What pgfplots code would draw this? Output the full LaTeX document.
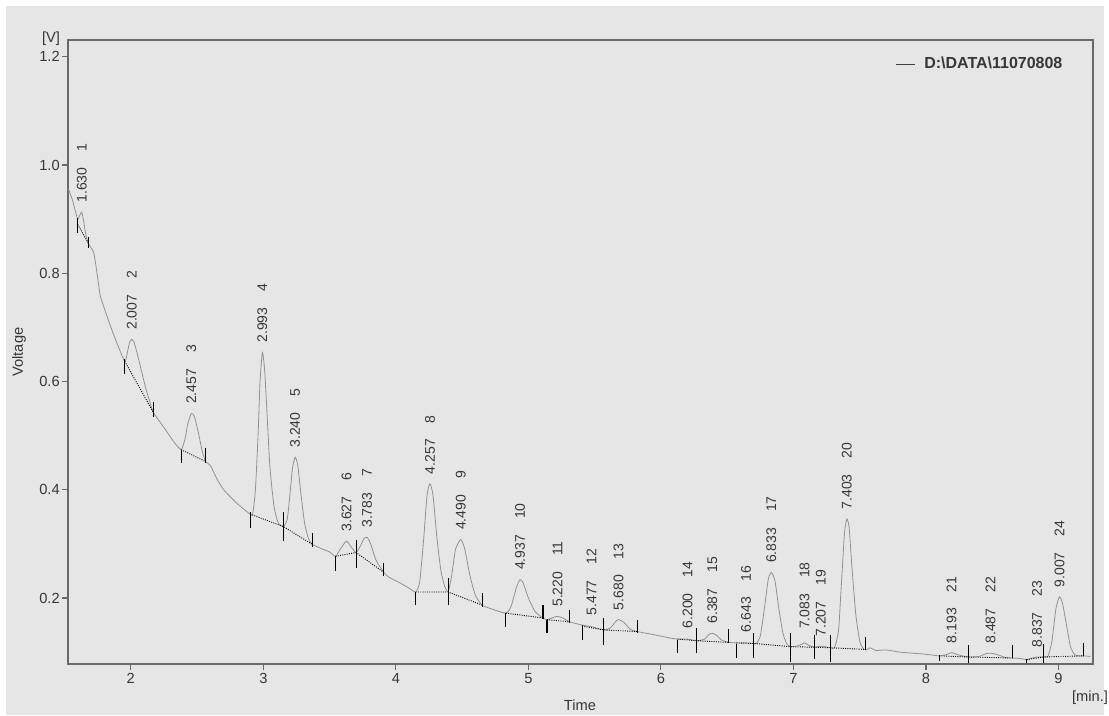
\documentclass[border=0pt]{standalone}
\usepackage{fontspec}
\setmainfont{Liberation Sans}
\usepackage{pgfplots}
\pgfplotsset{compat=1.18}
\definecolor{bg}{RGB}{230,230,230}
\definecolor{trace}{RGB}{145,145,145}
\definecolor{axisgray}{RGB}{105,105,105}
\definecolor{txt}{RGB}{55,55,55}
\newcommand{\pk}[3]{\node[rotate=90,anchor=west,inner xsep=7pt,inner ysep=0pt,text=txt,font=\fontsize{10.5}{12}\selectfont] at (axis cs:#1,#2) {#1\hspace{12pt}#3};}
\begin{document}
\begin{tikzpicture}
\fill[white] (0,0) rectangle (831.75pt,536.25pt);
\fill[bg] (4.5pt,0pt) rectangle (828pt,531.75pt);
\begin{axis}[
 scale only axis, width=768.75pt, height=468pt,
 at={(51pt,38.25pt)}, anchor=south west,
 xmin=1.526, xmax=9.26, ymin=0.078, ymax=1.231,
 axis line style={axisgray, line width=1pt},
 tick align=outside, xtick pos=bottom, ytick pos=left,
 major tick length=4.5pt, tick style={axisgray, line width=0.8pt},
 xtick={2,3,4,5,6,7,8,9}, ytick={0.2,0.4,0.6,0.8,1.0,1.2},
 yticklabel style={inner sep=1.5pt, /pgf/number format/fixed, /pgf/number format/fixed zerofill, /pgf/number format/precision=1},
 /pgf/number format/assume math mode=true,
 ticklabel style={font=\fontsize{11}{13}\selectfont, text=txt},
 xticklabel style={inner sep=2pt},
 unbounded coords=jump,
 clip=false,
 legend style={at={(0.807,0.9615)}, anchor=west, draw=none, fill=none,
   font=\bfseries\fontsize{12}{14}\selectfont, text=txt, inner sep=0pt},
 legend image code/.code={\draw[black!75, line width=0.6pt] (0pt,0pt) -- (14pt,0pt);},
]
\addplot[trace, line width=0.6pt, smooth, tension=0.35] coordinates {
(1.53,0.955)(1.56,0.935)(1.585,0.912)(1.60,0.900)(1.615,0.907)(1.63,0.913)(1.645,0.895)(1.66,0.872)(1.68,0.855)(1.72,0.838)(1.745,0.800)(1.77,0.758)(1.81,0.728)(1.85,0.700)(1.90,0.668)(1.955,0.637)
(1.975,0.655)(1.99,0.672)(2.007,0.678)(2.025,0.672)(2.05,0.650)(2.08,0.620)(2.11,0.590)(2.14,0.565)(2.17,0.543)
(2.25,0.515)(2.32,0.490)(2.38,0.474)
(2.41,0.495)(2.43,0.522)(2.457,0.541)(2.48,0.535)(2.51,0.505)(2.54,0.470)(2.565,0.452)
(2.60,0.445)(2.65,0.420)(2.70,0.400)(2.80,0.375)(2.90,0.355)(2.92,0.356)
(2.94,0.40)(2.96,0.50)(2.975,0.60)(2.993,0.654)(3.01,0.62)(3.03,0.53)(3.05,0.44)(3.08,0.37)(3.11,0.340)(3.15,0.332)
(3.18,0.345)(3.20,0.39)(3.22,0.44)(3.24,0.460)(3.26,0.445)(3.28,0.40)(3.31,0.34)(3.34,0.31)(3.37,0.299)
(3.45,0.290)(3.50,0.285)(3.545,0.277)
(3.58,0.290)(3.627,0.305)(3.67,0.292)(3.70,0.284)
(3.73,0.295)(3.76,0.310)(3.783,0.312)(3.81,0.300)(3.85,0.270)(3.91,0.247)
(3.95,0.238)(4.03,0.228)(4.10,0.218)(4.15,0.211)
(4.18,0.23)(4.21,0.31)(4.235,0.39)(4.257,0.411)(4.28,0.39)(4.31,0.31)(4.34,0.25)(4.37,0.22)(4.395,0.212)
(4.42,0.24)(4.45,0.29)(4.49,0.308)(4.52,0.29)(4.56,0.24)(4.60,0.205)(4.65,0.187)
(4.72,0.180)(4.83,0.172)
(4.87,0.185)(4.91,0.22)(4.937,0.234)(4.96,0.228)(5.00,0.20)(5.05,0.175)(5.11,0.163)
(5.14,0.160)(5.20,0.165)(5.22,0.166)(5.26,0.163)(5.31,0.156)
(5.405,0.150)(5.477,0.147)(5.57,0.141)
(5.62,0.145)(5.66,0.157)(5.68,0.160)(5.72,0.155)(5.77,0.142)(5.82,0.138)
(5.95,0.132)(6.05,0.127)(6.125,0.124)(6.20,0.124)(6.27,0.121)
(6.33,0.124)(6.36,0.132)(6.387,0.135)(6.42,0.131)(6.46,0.122)(6.51,0.118)
(6.57,0.117)(6.643,0.117)(6.70,0.116)
(6.72,0.116)(6.75,0.13)(6.78,0.18)(6.81,0.235)(6.833,0.247)(6.86,0.232)(6.89,0.18)(6.92,0.135)(6.95,0.115)(6.98,0.110)
(7.04,0.112)(7.083,0.117)(7.12,0.112)(7.16,0.109)(7.207,0.111)(7.28,0.108)
(7.31,0.108)(7.34,0.14)(7.36,0.22)(7.385,0.32)(7.403,0.346)(7.42,0.33)(7.44,0.26)(7.47,0.17)(7.50,0.12)(7.53,0.105)(7.55,0.104)
(7.58,0.108)(7.62,0.103)(7.70,0.104)(7.80,0.100)(7.90,0.098)(8.00,0.096)(8.10,0.093)
(8.15,0.095)(8.193,0.099)(8.24,0.095)(8.32,0.091)
(8.40,0.092)(8.45,0.097)(8.487,0.098)(8.53,0.096)(8.60,0.090)(8.655,0.089)
(8.72,0.088)(8.76,0.086)(8.80,0.089)(8.837,0.091)(8.885,0.091)
(8.92,0.092)(8.95,0.12)(8.98,0.18)(9.007,0.202)(9.03,0.19)(9.06,0.15)(9.09,0.11)(9.12,0.096)(9.15,0.093)(9.19,0.093)(9.24,0.092)
};
\addlegendentry{\hspace{5pt}D:\textbackslash DATA\textbackslash 11070808}
% integration baselines
\addplot[black, line width=0.7pt, densely dotted, forget plot] coordinates {
(1.60,0.890)(1.68,0.855) (nan,nan)
(1.955,0.637)(2.17,0.543) (nan,nan)
(2.38,0.474)(2.565,0.452) (nan,nan)
(2.90,0.355)(3.15,0.332)(3.37,0.299) (nan,nan)
(3.545,0.277)(3.70,0.284)(3.91,0.247) (nan,nan)
(4.15,0.211)(4.395,0.211)(4.65,0.187) (nan,nan)
(4.83,0.172)(5.11,0.163) (nan,nan)
(5.14,0.160)(5.31,0.156) (nan,nan)
(5.405,0.148)(5.57,0.141)(5.82,0.138) (nan,nan)
(6.125,0.124)(6.27,0.121)(6.51,0.118) (nan,nan)
(6.57,0.117)(6.70,0.116)(6.98,0.110)(7.16,0.109)(7.28,0.108)(7.54,0.105) (nan,nan)
(8.10,0.093)(8.32,0.091)(8.655,0.089) (nan,nan)
(8.76,0.086)(8.885,0.091)(9.19,0.093)
};
% integration markers
\addplot[black, line width=0.8pt, forget plot] coordinates {
(1.60,0.902)(1.60,0.874) (nan,nan)
(1.68,0.867)(1.68,0.847) (nan,nan)
(1.955,0.641)(1.955,0.613) (nan,nan)
(2.17,0.563)(2.17,0.535) (nan,nan)
(2.38,0.474)(2.38,0.450) (nan,nan)
(2.565,0.478)(2.565,0.450) (nan,nan)
(2.90,0.358)(2.90,0.330) (nan,nan)
(3.15,0.358)(3.15,0.305) (nan,nan)
(3.37,0.320)(3.37,0.295) (nan,nan)
(3.545,0.277)(3.545,0.250) (nan,nan)
(3.70,0.308)(3.70,0.256) (nan,nan)
(3.91,0.265)(3.91,0.240) (nan,nan)
(4.15,0.211)(4.15,0.187) (nan,nan)
(4.395,0.237)(4.395,0.187) (nan,nan)
(4.65,0.209)(4.65,0.183) (nan,nan)
(4.83,0.172)(4.83,0.146) (nan,nan)
(5.11,0.187)(5.11,0.161) (nan,nan)
(5.14,0.159)(5.14,0.135) (nan,nan)
(5.31,0.178)(5.31,0.154) (nan,nan)
(5.405,0.150)(5.405,0.122) (nan,nan)
(5.57,0.163)(5.57,0.113) (nan,nan)
(5.82,0.159)(5.82,0.135) (nan,nan)
(6.125,0.122)(6.125,0.098) (nan,nan)
(6.27,0.144)(6.27,0.098) (nan,nan)
(6.51,0.142)(6.51,0.116) (nan,nan)
(6.57,0.115)(6.57,0.089) (nan,nan)
(6.70,0.135)(6.70,0.089) (nan,nan)
(6.98,0.135)(6.98,0.082) (nan,nan)
(7.16,0.131)(7.16,0.087) (nan,nan)
(7.28,0.131)(7.28,0.082) (nan,nan)
(7.54,0.128)(7.54,0.104) (nan,nan)
(8.10,0.095)(8.10,0.084) (nan,nan)
(8.32,0.113)(8.32,0.080) (nan,nan)
(8.655,0.113)(8.655,0.089) (nan,nan)
(8.76,0.088)(8.76,0.080) (nan,nan)
(8.885,0.115)(8.885,0.080) (nan,nan)
(9.19,0.116)(9.19,0.093)
};
\pk{1.630}{0.913}{1}
\pk{2.007}{0.678}{2}
\pk{2.457}{0.541}{3}
\pk{2.993}{0.654}{4}
\pk{3.240}{0.460}{5}
\pk{3.627}{0.305}{6}
\pk{3.783}{0.312}{7}
\pk{4.257}{0.411}{8}
\pk{4.490}{0.308}{9}
\pk{4.937}{0.234}{10}
\pk{5.220}{0.166}{11}
\pk{5.477}{0.150}{12}
\pk{5.680}{0.160}{13}
\pk{6.200}{0.126}{14}
\pk{6.387}{0.135}{15}
\pk{6.643}{0.119}{16}
\pk{6.833}{0.247}{17}
\pk{7.083}{0.125}{18}
\pk{7.207}{0.111}{19}
\pk{7.403}{0.346}{20}
\pk{8.193}{0.099}{21}
\pk{8.487}{0.098}{22}
\pk{8.837}{0.091}{23}
\pk{9.007}{0.202}{24}
\end{axis}
\node[text=txt, font=\fontsize{11}{13}\selectfont] at (38.25pt,507pt) {[V]};
\node[text=txt, font=\fontsize{11}{13}\selectfont, rotate=90] at (14.25pt,272.25pt) {Voltage};
\node[text=txt, font=\fontsize{11}{13}\selectfont] at (435pt,7.5pt) {Time};
\node[text=txt, font=\fontsize{11}{13}\selectfont] at (817.5pt,12.75pt) {[min.]};
\pgfresetboundingbox
\useasboundingbox (0,0) rectangle (831.75pt,536.25pt);
\end{tikzpicture}
\end{document}
